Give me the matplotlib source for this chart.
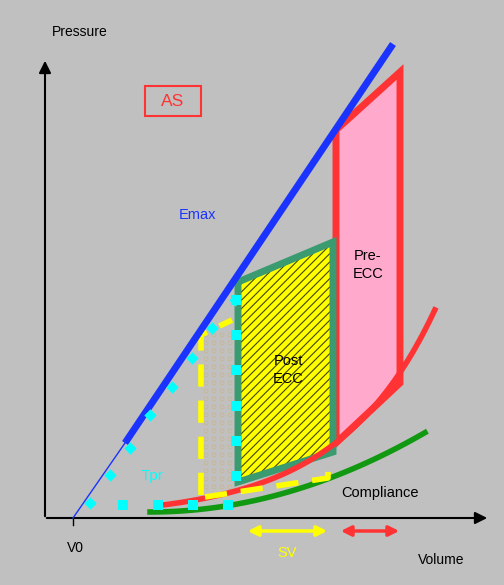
import numpy as np
import matplotlib
matplotlib.use("Agg")
import matplotlib.pyplot as plt
from matplotlib.patches import Polygon, Rectangle

plt.rcParams['hatch.linewidth'] = 0.8
W, H = 504, 585
fig = plt.figure(figsize=(W/100, H/100), dpi=100)
fig.patch.set_facecolor('#c0c0c0')
ax = fig.add_axes([0, 0, 1, 1])
ax.set_xlim(0, W); ax.set_ylim(H, 0); ax.axis('off')
ax.set_facecolor('#c0c0c0')

# diagram geometry (pixel space)
emax_x = [125, 393]; emax_y = [443, 44]
v0_x = [73, 125]; v0_y = [518, 443]
pre_x = [336, 400, 400, 336]; pre_y = [130, 72, 383, 443]
post_x = [238, 333, 333, 238]; post_y = [282, 242, 452, 482]
tpr_diag_x = [90, 110, 130, 150, 172, 192, 212, 235]
tpr_diag_y = [503, 475, 448, 415, 387, 358, 328, 300]
tpr_vert_y = [300, 335, 370, 406, 441, 476]
tpr_bot_x = [123, 158, 193, 228]
edpvr_x = np.linspace(163, 436, 80)
edpvr_y = 505 - 12.6 * (np.exp((edpvr_x - 163) / 97.0) - 1)
comp_x = np.linspace(150, 425, 60)
comp_y = 512 - 0.00105 * (comp_x - 150) ** 2

ax.plot([73, 73], [518, 525], color='k', lw=1)
ax.annotate('', xy=(45, 58), xytext=(45, 519), arrowprops=dict(arrowstyle='-|>', color='k', lw=1.5, mutation_scale=18))
ax.annotate('', xy=(490, 518), xytext=(44, 518), arrowprops=dict(arrowstyle='-|>', color='k', lw=1.5, mutation_scale=18))

# dotted region
xs, ys = np.meshgrid(np.arange(206, 236, 8), np.arange(335, 495, 8))
ax.scatter(xs.ravel(), ys.ravel(), s=8, facecolors='none', edgecolors='#c8b890', lw=0.6, zorder=2)

ax.add_patch(Polygon(list(zip(pre_x, pre_y)), closed=True, fc='#ffaacc', ec='#ff3333', lw=5, zorder=3))
ax.add_patch(Polygon(list(zip(post_x, post_y)), closed=True, fc='#ffff00', ec='#444400', hatch='////', lw=0, zorder=3))
ax.add_patch(Polygon(list(zip(post_x, post_y)), closed=True, fill=False, ec='#3a9a70', lw=5, zorder=4))

ax.plot(edpvr_x, edpvr_y, color='#ff3333', lw=4, zorder=5, solid_capstyle='butt')
ax.plot(comp_x, comp_y, color='#119911', lw=4, zorder=5)

ax.plot([201, 201, 232], [495, 335, 320], color='#ffff00', lw=4, ls=(0, (4, 2.5)), zorder=6)
ax.plot([205, 328, 328], [497, 478, 460], color='#ffff00', lw=4, ls=(0, (4, 2.5)), zorder=6)

ax.plot(emax_x, emax_y, color='#1a33ff', lw=5, zorder=6, solid_capstyle='butt')
ax.plot(v0_x, v0_y, color='#1a33ff', lw=1, zorder=6)

ax.scatter(tpr_diag_x, tpr_diag_y, marker='D', s=40, color='cyan', zorder=7, lw=0)
ax.scatter([236]*len(tpr_vert_y), tpr_vert_y, marker='s', s=45, color='cyan', zorder=7, lw=0)
ax.scatter(tpr_bot_x, [505]*len(tpr_bot_x), marker='s', s=45, color='cyan', zorder=7, lw=0)

ax.add_patch(Rectangle((145, 86), 56, 30, fc='#c0c0c0', ec='#ff3333', lw=1.5))
f = dict(family='Liberation Sans')
ax.text(173, 101, 'AS', color='#ff3333', fontsize=12.5, ha='center', va='center', **f)
ax.text(52, 32, 'Pressure', fontsize=10, ha='left', va='center', **f)
ax.text(418, 560, 'Volume', fontsize=10, ha='left', va='center', **f)
ax.text(75, 548, 'V0', fontsize=10, ha='center', va='center', **f)
ax.text(197, 215, 'Emax', color='#1a33ff', fontsize=10.5, ha='center', va='center', **f)
ax.text(152, 476, 'Tpr', color='cyan', fontsize=11, ha='center', va='center', zorder=8, **f)
ax.text(368, 265, 'Pre-\nECC', fontsize=10.5, ha='center', va='center', zorder=8, linespacing=1.3, **f)
ax.text(288, 370, 'Post\nECC', fontsize=10.5, ha='center', va='center', zorder=8, linespacing=1.3, **f)
ax.text(380, 493, 'Compliance', fontsize=10.5, ha='center', va='center', zorder=8, **f)
ax.annotate('', xy=(245, 531), xytext=(330, 531), arrowprops=dict(arrowstyle='<|-|>', color='#ffff00', lw=2.5, mutation_scale=15))
ax.annotate('', xy=(338, 531), xytext=(402, 531), arrowprops=dict(arrowstyle='<|-|>', color='#ff3333', lw=2.5, mutation_scale=15))
ax.text(287, 553, 'SV', color='#ffff00', fontsize=10.5, ha='center', va='center', **f)

fig.savefig('out.png', dpi=100, facecolor=fig.get_facecolor())
